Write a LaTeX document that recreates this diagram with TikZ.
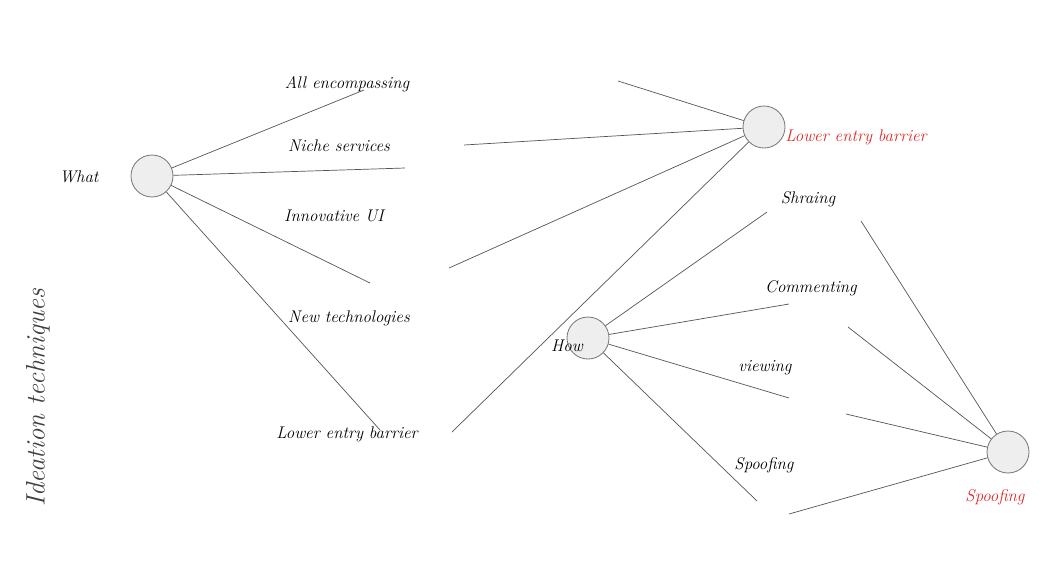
\documentclass[tikz,border=0pt]{standalone}
\usepackage{xcolor}
\usepackage{tikz}
\usetikzlibrary{positioning}
\definecolor{hubfill}{HTML}{EEEEEE}
\definecolor{hubline}{HTML}{7A7A7A}
\definecolor{spokec}{HTML}{555555}
\definecolor{redc}{HTML}{E02828}
\tikzset{
  hub/.style={circle, draw=hubline, fill=hubfill, minimum size=1.05cm, inner sep=0pt, line width=0.6pt},
  spoke/.style={draw=spokec, line width=0.5pt},
  lbl/.style={font=\large\itshape, text=black, inner sep=1pt},
  redlbl/.style={lbl, text=redc},
  title/.style={font=\fontsize{19}{22}\selectfont\itshape, text=black!75, rotate=90},
}
\begin{document}
\begin{tikzpicture}[x=0.025cm, y=-0.025cm]
  \useasboundingbox[fill=white] (0,0) rectangle (1050,581);
  \node[title] (ttl) at (38,398) {Ideation techniques};
  % hubs
  \node[hub] (what) at (152,176) {};
  \node[hub] (leb) at (764,127) {};
  \node[hub] (how) at (588,338) {};
  \node[hub] (spoof) at (1008,452) {};
  \node[lbl] (whatl) at (79,177) {What};
  \node[redlbl] (lebl) at (856,137) {Lower entry barrier};
  \node[lbl] (howl) at (567,346) {How};
  \node[redlbl] (spoofl) at (995,497) {Spoofing};
  % what branches
  \node[lbl] (allenc) at (347,84) {All encompassing};
  \node[lbl] (niche) at (339,146) {Niche services};
  \node[lbl] (innov) at (334,216) {Innovative UI};
  \node[lbl] (newtech) at (349,318) {New technologies};
  \node[lbl] (lower) at (347,434) {Lower entry barrier};
  \coordinate (w1) at (364,90);
  \coordinate (w2) at (405,168);
  \coordinate (w3) at (370,283);
  \coordinate (w4) at (380,430);
  \draw[spoke] (what) -- (w1); \draw[spoke] (what) -- (w2);
  \draw[spoke] (what) -- (w3); \draw[spoke] (what) -- (w4);
  % into lower entry barrier
  \coordinate (l1) at (618,81);
  \coordinate (l2) at (464,145);
  \coordinate (l3) at (449,268);
  \coordinate (l4) at (452,432);
  \draw[spoke] (l1) -- (leb); \draw[spoke] (l2) -- (leb);
  \draw[spoke] (l3) -- (leb); \draw[spoke] (l4) -- (leb);
  % how branches
  \node[lbl] (shr) at (808,199) {Shraing};
  \node[lbl] (comm) at (811,288) {Commenting};
  \node[lbl] (view) at (765,368) {viewing};
  \node[lbl] (spf) at (764,465) {Spoofing};
  \coordinate (h1) at (767,212);
  \coordinate (h2) at (789,304);
  \coordinate (h3) at (789,398);
  \coordinate (h4) at (757,501);
  \draw[spoke] (how) -- (h1); \draw[spoke] (how) -- (h2);
  \draw[spoke] (how) -- (h3); \draw[spoke] (how) -- (h4);
  % into spoofing
  \coordinate (s1) at (861,221);
  \coordinate (s2) at (848,327);
  \coordinate (s3) at (846,414);
  \coordinate (s4) at (789,514);
  \draw[spoke] (s1) -- (spoof); \draw[spoke] (s2) -- (spoof);
  \draw[spoke] (s3) -- (spoof); \draw[spoke] (s4) -- (spoof);
\end{tikzpicture}
\end{document}
